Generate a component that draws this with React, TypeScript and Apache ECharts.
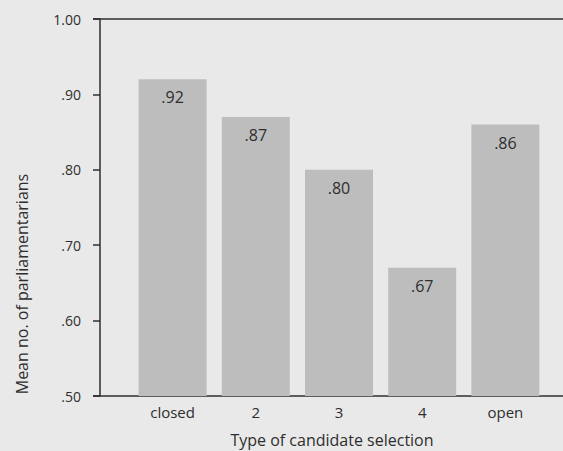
import React, { useEffect, useRef } from "react";
import * as echarts from "echarts";

const categories = ["closed", "2", "3", "4", "open"];
const values = [0.92, 0.87, 0.8, 0.67, 0.86];
const valueLabels = [".92", ".87", ".80", ".67", ".86"];
const yTickLabels: Record<string, string> = {
  "0.5": ".50",
  "0.6": ".60",
  "0.7": ".70",
  "0.8": ".80",
  "0.9": ".90",
  "1": "1.00",
};
const xTitle = "Type of candidate selection";
const yTitle = "Mean no. of parliamentarians";

const FONT = "'Open Sans', 'Noto Sans', sans-serif";
const TEXT = "#2e2e2e";

export default function App() {
  const ref = useRef<HTMLDivElement>(null);
  useEffect(() => {
    if (!ref.current) return;
    const chart = echarts.init(ref.current, undefined, { renderer: "svg" });
    chart.setOption({
      animation: false,
      backgroundColor: "#e9e9e9",
      textStyle: { fontFamily: FONT },
      grid: { left: 131, right: 16, top: 19, bottom: 55 },
      xAxis: {
        type: "category",
        data: categories,
        axisLine: { show: false },
        axisTick: { show: false },
        axisLabel: { color: TEXT, fontSize: 15, margin: 8, fontFamily: FONT },
      },
      yAxis: {
        type: "value",
        min: 0.5,
        max: 1.0,
        interval: 0.1,
        offset: 31,
        splitLine: { show: false },
        axisLine: { show: true, lineStyle: { color: TEXT, width: 1.5 } },
        axisTick: { show: true, inside: false, length: 7, lineStyle: { color: TEXT, width: 1.5 } },
        axisLabel: {
          color: TEXT,
          fontSize: 14,
          margin: 19,
          fontFamily: FONT,
          formatter: (v: number) => yTickLabels[String(Math.round(v * 10) / 10)] ?? String(v),
        },
      },
      graphic: [
        {
          type: "line",
          shape: { x1: 93, y1: 396, x2: 563, y2: 396 },
          style: { stroke: TEXT, lineWidth: 1.5 },
        },
        {
          type: "line",
          shape: { x1: 93, y1: 19, x2: 563, y2: 19 },
          style: { stroke: TEXT, lineWidth: 1.5 },
        },
        {
          type: "text",
          x: 332,
          y: 440,
          style: {
            text: xTitle,
            fill: TEXT,
            font: `16px ${FONT}`,
            textAlign: "center",
            textVerticalAlign: "middle",
          },
        },
        {
          type: "text",
          x: 22,
          y: 284,
          rotation: Math.PI / 2,
          style: {
            text: yTitle,
            fill: TEXT,
            font: `16px ${FONT}`,
            textAlign: "center",
            textVerticalAlign: "middle",
          },
        },
      ],
      series: [
        {
          type: "bar",
          data: values,
          barWidth: 68,
          itemStyle: { color: "#bdbdbd" },
          label: {
            show: true,
            position: "insideTop",
            distance: 10,
            color: TEXT,
            fontSize: 16,
            fontFamily: FONT,
            formatter: (p: any) => valueLabels[p.dataIndex],
          },
        },
      ],
    });
    return () => chart.dispose();
  }, []);
  return (
    <div
      ref={ref}
      style={{ position: "fixed", left: 0, top: 0, width: 563, height: 451 }}
    />
  );
}
